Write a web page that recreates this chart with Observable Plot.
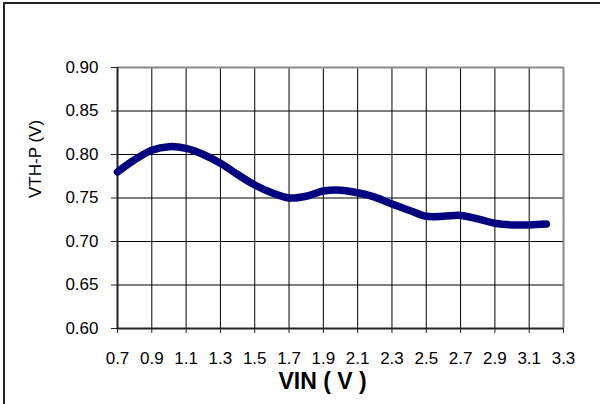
<!DOCTYPE html>
<html>
<head>
<meta charset="utf-8">
<script src="https://cdn.jsdelivr.net/npm/d3@7"></script>
<script src="https://cdn.jsdelivr.net/npm/@observablehq/plot@0.6"></script>
<style>
  html, body { margin: 0; padding: 0; background: #fff; }
  #wrap { position: relative; width: 600px; height: 404px; overflow: hidden; }
  #frame { position: absolute; left: 3px; top: 2px; width: 600px; height: 410px;
           border-top: 2px solid #222; border-left: 2px solid #222; box-sizing: border-box; pointer-events: none; }
  svg { display: block; }
</style>
</head>
<body>
<div id="wrap"><div id="frame"></div></div>
<script>
const xTicks = [0.7, 0.9, 1.1, 1.3, 1.5, 1.7, 1.9, 2.1, 2.3, 2.5, 2.7, 2.9, 3.1, 3.3];
const xGrid = [0.7, 0.9, 1.1, 1.3, 1.5, 1.7, 1.9, 2.1, 2.3, 2.5, 2.7, 2.9, 3.1, 3.3];
const yTicks = [0.60, 0.65, 0.70, 0.75, 0.80, 0.85, 0.90];
const vin = [0.7, 0.8, 0.9, 1.0, 1.1, 1.2, 1.3, 1.4, 1.5, 1.6, 1.7, 1.8, 1.9, 2.0, 2.1, 2.2, 2.3, 2.4, 2.5, 2.6, 2.7, 2.8, 2.9, 3.0, 3.1, 3.2];
const vth = [0.780, 0.794, 0.805, 0.809, 0.807, 0.800, 0.790, 0.777, 0.765, 0.756, 0.750, 0.752, 0.758, 0.759, 0.756, 0.751, 0.743, 0.736, 0.729, 0.729, 0.730, 0.726, 0.721, 0.719, 0.719, 0.720];
const xLabel = "VIN ( V )";
const yLabel = "VTH-P (V)";

const data = vin.map((v, i) => ({vin: v, vth: vth[i]}));
const font = "'Liberation Sans', Arial, sans-serif";

const chart = Plot.plot({
  width: 600,
  height: 404,
  marginLeft: 117,
  marginRight: 37,
  marginTop: 67,
  marginBottom: 76,
  style: {fontFamily: font, fontSize: "17px", color: "#000", background: "transparent"},
  x: {domain: [0.7, 3.3], axis: null},
  y: {domain: [0.6, 0.9], axis: null},
  marks: [
    Plot.ruleX(xGrid, {stroke: "#000", strokeWidth: 1}),
    Plot.ruleY(yTicks, {stroke: "#000", strokeWidth: 1}),
    Plot.ruleY([0.9], {stroke: "#888", strokeWidth: 2}),
    Plot.ruleX([3.3], {stroke: "#888", strokeWidth: 2}),
    Plot.ruleX([0.7], {stroke: "#222", strokeWidth: 2}),
    Plot.ruleY([0.6], {stroke: "#222", strokeWidth: 2}),
    Plot.axisX({ticks: xTicks, tickFormat: d => d.toFixed(1), tickSize: 5, tickPadding: 18, label: null, stroke: "#222", fontSize: 17, fill: "#000", style: {letterSpacing: "-0.9px"}}),
    Plot.axisY({ticks: yTicks, tickFormat: d => d.toFixed(2), tickSize: 6, tickPadding: 13, label: null, stroke: "#222", fontSize: 17, fill: "#000", style: {letterSpacing: "-0.6px"}}),
    Plot.line(data, {x: "vin", y: "vth", curve: "catmull-rom", stroke: "#000080", strokeWidth: 7.5, strokeLinecap: "round", strokeLinejoin: "round"}),
    Plot.text([xLabel], {frameAnchor: "bottom", dx: -18, dy: 60, text: d => d, fontSize: 23, fontWeight: "bold", fill: "#000"}),
    Plot.text([yLabel], {frameAnchor: "left", dx: -82, rotate: -90, text: d => d, fontSize: 17, fill: "#000"})
  ]
});
document.getElementById("wrap").prepend(chart);
</script>
</body>
</html>
